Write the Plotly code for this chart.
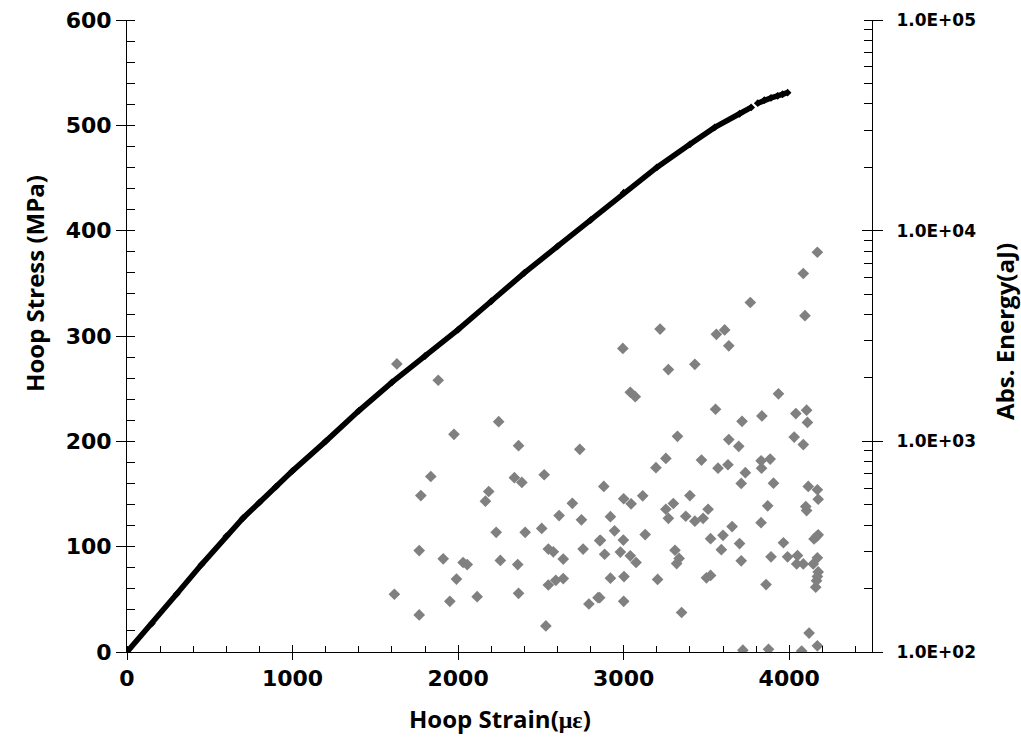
import plotly.graph_objects as go

# loading curve: hoop strain (με) vs hoop stress (MPa)
curve_strain = [0, 150, 300, 450, 600, 700, 800, 900, 1000, 1200, 1400, 1600, 1800, 2000,
                2200, 2400, 2600, 2800, 3000, 3200, 3400, 3550, 3700, 3770,
                None, 3810, 3850, 3890, 3930, 3960, 3990]
curve_stress = [0, 27, 55, 83, 110, 127, 142, 157, 172, 200, 229, 256, 281, 306,
                333, 360, 385, 410, 436, 460, 482, 498, 511, 517,
                None, 521, 524, 526, 528, 529.5, 531]

# acoustic emission hits: hoop strain (με) vs absolute energy (aJ)
ae_strain = [1630, 1880, 2245, 1975, 2365, 2735, 1835, 1775, 2340, 2385, 2520, 2185, 2165,
             2690, 2610, 2745, 2230, 2405, 2505, 1765, 1910, 2030, 2055, 2255, 2360, 2545,
             2575, 2635, 2755, 2855, 1990, 2545, 2590, 2635, 1615, 1950, 2115, 2365, 2790,
             2845, 1765, 2530,
             4170, 4085, 3765, 4095, 3220, 3610, 3560, 2995, 3635, 3430, 3270, 3040, 3070,
             3935, 3555, 3715, 3835, 4040, 4105, 4110,
             3325, 3635, 3695, 4030, 4085, 3195, 3255, 3470, 3570, 3630, 3830, 3833, 3885,
             3735, 3710, 3905, 2880, 3000, 3045, 3115, 3255, 3300, 3270, 3400, 3375, 3430,
             3480, 3510, 3870, 4115, 4170, 4175, 4100, 4105, 3830, 2920, 2945, 3130, 2860,
             2998, 2885, 2980, 3040, 3075, 3310, 3335, 3320, 3525, 3600, 3655, 3590, 3700,
             3710, 3965, 3890, 3990, 4050, 4045, 4085, 4145, 4150, 4165, 4175, 4170, 4175,
             4170, 4165, 4160, 2920, 3002, 3205, 3500, 3525, 3860, 2855, 3000, 3350, 4120,
             4170, 3720, 3875, 4075]
ae_energy = [2330, 1950, 1240, 1080, 954, 916, 681, 553, 672, 638, 694, 578, 520,
             508, 444, 424, 370, 370, 386, 303, 277, 266, 260, 272, 260, 308,
             299, 276, 308, 338, 222, 208, 219, 223, 188, 174, 183, 190, 169,
             181, 150, 133,
             7900, 6260, 4560, 3950, 3410, 3380, 3220, 2760, 2840, 2320, 2190, 1710, 1630,
             1680, 1420, 1245, 1320, 1355, 1405, 1230,
             1056, 1019, 947, 1048, 965, 750, 830, 815, 746, 774, 809, 746, 824,
             710, 631, 633, 611, 534, 505, 551, 476, 507, 431, 553, 441, 418,
             431, 476, 494, 611, 589, 531, 490, 469, 411, 439, 376, 361, 339,
             340, 291, 298, 286, 266, 304, 278, 263, 345, 358, 394, 306, 327,
             271, 330, 283, 283, 287, 262, 262, 262, 344, 353, 360, 280, 240,
             228, 218, 203, 224, 228, 221, 225, 231, 209, 181, 174, 154, 123,
             107, 102, 103, 101]

strain_ticks = [0, 1000, 2000, 3000, 4000]
energy_ticks = [100, 1000, 10000, 100000]
energy_labels = ["1.0E+02", "1.0E+03", "1.0E+04", "1.0E+05"]

tick_font = dict(family="DejaVu Sans", size=22, color="black", weight="bold")
right_tick_font = dict(family="DejaVu Sans", size=17, color="black", weight="bold")
title_font = dict(family="Open Sans", size=24, color="black", weight="bold")

fig = go.Figure()
fig.add_trace(go.Scatter(
    x=curve_strain, y=curve_stress,
    mode="lines+markers",
    line=dict(color="black", width=5.5),
    marker=dict(symbol="diamond", size=6, color="black"),
    connectgaps=False,
    showlegend=False,
))
fig.add_trace(go.Scatter(
    x=ae_strain, y=ae_energy,
    yaxis="y2",
    mode="markers",
    marker=dict(symbol="diamond", size=9, color="rgb(128,128,128)"),
    showlegend=False,
))
# empty trace so the inner halves of the crossing major ticks are drawn
fig.add_trace(go.Scatter(x=[], y=[], xaxis="x2", yaxis="y3", showlegend=False))

fig.update_layout(
    width=1021, height=737,
    margin=dict(l=127, r=149, t=20, b=85),
    plot_bgcolor="white", paper_bgcolor="white",
    xaxis=dict(
        range=[0, 4500], tickvals=strain_ticks, automargin=False,
        showgrid=False, zeroline=False,
        showline=True, linecolor="black", linewidth=1,
        ticks="outside", ticklen=7, tickcolor="black",
        minor=dict(dtick=200, tick0=0, ticks="inside", ticklen=6, tickcolor="black", showgrid=False),
        tickfont=tick_font,
    ),
    xaxis2=dict(
        range=[0, 4500], tickvals=strain_ticks, overlaying="x", anchor="y", automargin=False,
        showgrid=False, zeroline=False, showline=False, showticklabels=False,
        ticks="inside", ticklen=7, tickcolor="black",
    ),
    yaxis=dict(
        range=[0, 600], dtick=100, tick0=0, automargin=False,
        showgrid=False, zeroline=False,
        showline=True, linecolor="black", linewidth=1,
        ticks="outside", ticklen=10, tickcolor="black",
        minor=dict(dtick=20, tick0=0, ticks="inside", ticklen=8, tickcolor="black", showgrid=False),
        tickfont=tick_font,
    ),
    yaxis2=dict(
        type="log", range=[2, 5], overlaying="y", side="right", anchor="x", automargin=False,
        tickvals=energy_ticks, ticktext=energy_labels,
        showgrid=False, zeroline=False,
        showline=True, linecolor="black", linewidth=1,
        ticks="outside", ticklen=10, tickcolor="black", ticklabelstandoff=10,
        minor=dict(dtick="D1", ticks="inside", ticklen=8, tickcolor="black", showgrid=False),
        tickfont=right_tick_font,
    ),
    yaxis3=dict(
        type="log", range=[2, 5], overlaying="y", side="right", anchor="x2", automargin=False,
        tickvals=energy_ticks,
        showgrid=False, zeroline=False, showline=False, showticklabels=False,
        ticks="inside", ticklen=10, tickcolor="black",
    ),
    annotations=[
        dict(text="Hoop Strain(<span style='font-family:Liberation Serif'>με</span>)",
             xref="paper", yref="paper", x=0.5, y=-0.106, showarrow=False,
             xanchor="center", yanchor="middle", font=title_font),
        dict(text="Hoop Stress (MPa)", textangle=-90,
             xref="paper", yref="paper", x=-0.1235, y=0.584, showarrow=False,
             xanchor="center", yanchor="middle", font=title_font),
        dict(text="Abs. Energy(aJ)", textangle=-90,
             xref="paper", yref="paper", x=1.1785, y=0.508, showarrow=False,
             xanchor="center", yanchor="middle", font=title_font),
    ],
)

# drop the default page margin so the figure sits at the window's top-left corner
fig.write_html("out.html", config={"displayModeBar": False},
               post_script="document.body.style.margin='0';")
